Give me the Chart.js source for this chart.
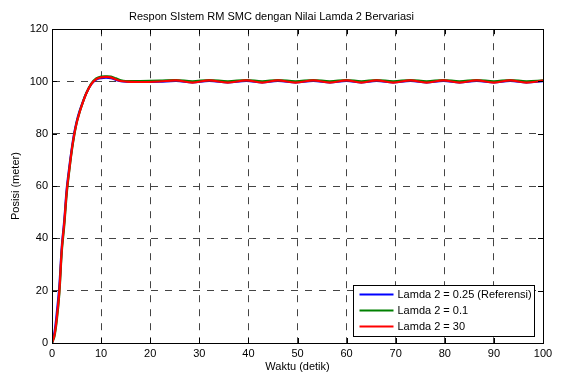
<!DOCTYPE html>
<html>
<head>
<meta charset="utf-8">
<script src="https://cdn.jsdelivr.net/npm/chart.js@4.4.1/dist/chart.umd.min.js"></script>
<style>
  html, body { margin: 0; padding: 0; background: #fff; }
  #wrap { width: 562px; height: 374px; }
</style>
</head>
<body>
<div id="wrap"><canvas id="chart"></canvas></div>
<script>
// waktu (detik)
const waktu = [0, 0.5, 1, 1.5, 2, 2.5, 3, 3.5, 4, 4.5, 5, 5.5, 6, 7, 8, 9, 10, 11, 12, 13, 14, 15,
    18, 21.9, 25.3, 28.6, 32, 35.8, 39.6, 42.8, 46, 49.6, 53.2, 56.6, 60, 63, 66.1, 69.5, 73, 76.3,
    79.7, 83, 86.5, 90, 93.3, 96.6, 100];

const lamda025 = [0, 4, 12, 22, 37, 47, 59, 67, 74, 80, 84.5, 88, 90.8, 95.6, 99, 100.7, 101.3, 101.5, 101.3, 100.6, 100.1, 99.9,
    99.8, 99.9, 100.2, 99.7, 100.2, 99.7, 100.2, 99.7, 100.2, 99.7, 100.2, 99.7, 100.2, 99.7, 100.2, 99.7, 100.2, 99.7,
    100.2, 99.7, 100.2, 99.7, 100.2, 99.7, 100.1];

const lamda01 = [0, 2.5, 9, 19, 35, 45, 57, 65.5, 73, 79, 84, 87.5, 90.5, 95.6, 99.2, 101.2, 101.9, 102.0, 101.9, 101.2, 100.5, 100.2,
    100.2, 100.3, 100.5, 100.1, 100.5, 100.1, 100.5, 100.1, 100.5, 100.1, 100.5, 100.1, 100.5, 100.1, 100.5, 100.1, 100.5, 100.1,
    100.5, 100.1, 100.5, 100.1, 100.5, 100.1, 100.4];

const lamda30 = [0, 3, 10, 20, 36, 46, 58, 66, 73.5, 79.5, 84, 87.5, 90.5, 95.5, 99, 100.9, 101.6, 101.8, 101.6, 100.8, 100.2, 100.0,
    99.8, 100.0, 100.4, 99.6, 100.4, 99.6, 100.4, 99.6, 100.4, 99.6, 100.4, 99.6, 100.4, 99.6, 100.4, 99.6, 100.4, 99.6,
    100.4, 99.6, 100.4, 99.6, 100.4, 99.6, 100.3];

const seriesLabels = ["Lamda 2 = 0.25 (Referensi)", "Lamda 2 = 0.1", "Lamda 2 = 30"];
const seriesColors = ["#0000ff", "#008000", "#ff0000"];

const FONT = "'Liberation Sans', Arial, Helvetica, sans-serif";

function pts(ys) {
    return waktu.map((t, i) => ({ x: t, y: ys[i] }));
}

// kotak plot + tick ke dalam (gaya MATLAB)
const boxPlugin = {
    id: "box",
    afterDatasetsDraw(chart) {
        const ctx = chart.ctx;
        const a = chart.chartArea;
        const xs = chart.scales.x;
        const ys = chart.scales.y;
        ctx.save();
        ctx.strokeStyle = "#000";
        ctx.lineWidth = 1;
        ctx.beginPath();
        xs.ticks.forEach(t => {
            const px = Math.round(xs.getPixelForValue(t.value)) + 0.5;
            ctx.moveTo(px, a.bottom); ctx.lineTo(px, a.bottom - 5);
            ctx.moveTo(px, a.top); ctx.lineTo(px, a.top + 5);
        });
        ys.ticks.forEach(t => {
            const py = Math.round(ys.getPixelForValue(t.value)) + 0.5;
            ctx.moveTo(a.left, py); ctx.lineTo(a.left + 5, py);
            ctx.moveTo(a.right, py); ctx.lineTo(a.right - 5, py);
        });
        ctx.stroke();
        ctx.strokeRect(Math.round(a.left) + 0.5, Math.round(a.top) + 0.5,
            Math.round(a.right - a.left), Math.round(a.bottom - a.top));
        ctx.restore();
    },
    afterDraw(chart) {
        // legenda di pojok kanan bawah
        const ctx = chart.ctx;
        const a = chart.chartArea;
        const w = 181, h = 51;
        const x0 = Math.round(a.right) - 190 + 0.5;
        const y0 = Math.round(a.bottom) - 58 + 0.5;
        ctx.save();
        ctx.fillStyle = "#fff";
        ctx.fillRect(x0, y0, w, h);
        ctx.strokeStyle = "#000";
        ctx.lineWidth = 1;
        ctx.strokeRect(x0, y0, w, h);
        ctx.font = "11px " + FONT;
        ctx.textBaseline = "middle";
        chart.data.datasets.forEach((ds, i) => {
            const yy = y0 + 9 + i * 16;
            ctx.strokeStyle = ds.borderColor;
            ctx.lineWidth = 2;
            ctx.beginPath();
            ctx.moveTo(x0 + 6, yy);
            ctx.lineTo(x0 + 40, yy);
            ctx.stroke();
            ctx.fillStyle = "#000";
            ctx.fillText(ds.label, x0 + 44, yy);
        });
        ctx.restore();
    }
};

const datasets = [lamda025, lamda01, lamda30].map((ys, i) => ({
    label: seriesLabels[i],
    data: pts(ys),
    borderColor: seriesColors[i],
    backgroundColor: seriesColors[i],
    borderWidth: 2.2,
    pointRadius: 0,
    tension: 0.35,
    fill: false,
    order: 2 - i
}));

new Chart(document.getElementById("chart"), {
    type: "line",
    data: { datasets: datasets },
    plugins: [boxPlugin],
    options: {
        responsive: true,
        maintainAspectRatio: false,
        animation: false,
        layout: { padding: { left: 0, right: 19, top: 0, bottom: 0 } },
        plugins: {
            legend: { display: false },
            tooltip: { enabled: false },
            title: {
                display: true,
                text: "Respon SIstem RM SMC dengan Nilai Lamda 2 Bervariasi",
                color: "#000",
                font: { family: FONT, size: 11, weight: "normal" },
                padding: { top: 10, bottom: 6 }
            }
        },
        scales: {
            x: {
                type: "linear",
                min: 0,
                max: 100,
                ticks: { stepSize: 10, color: "#000", padding: 4, font: { family: FONT, size: 11 }, maxRotation: 0 },
                grid: { color: "#444", lineWidth: 1, drawTicks: false },
                border: { display: true, color: "#000", dash: [7, 7] },
                title: { display: true, text: "Waktu (detik)", color: "#000", font: { family: FONT, size: 11 }, padding: { top: 0, bottom: 0 } },
                afterFit(scale) { scale.height = 31; }
            },
            y: {
                min: 0,
                max: 120,
                ticks: { stepSize: 20, color: "#000", padding: 4, font: { family: FONT, size: 11 } },
                grid: { color: "#444", lineWidth: 1, drawTicks: false },
                border: { display: true, color: "#000", dash: [7, 7] },
                title: { display: true, text: "Posisi (meter)", color: "#000", font: { family: FONT, size: 11 }, padding: { top: 9, bottom: 0 } },
                afterFit(scale) { scale.width = 52; }
            }
        }
    }
});
</script>
</body>
</html>
